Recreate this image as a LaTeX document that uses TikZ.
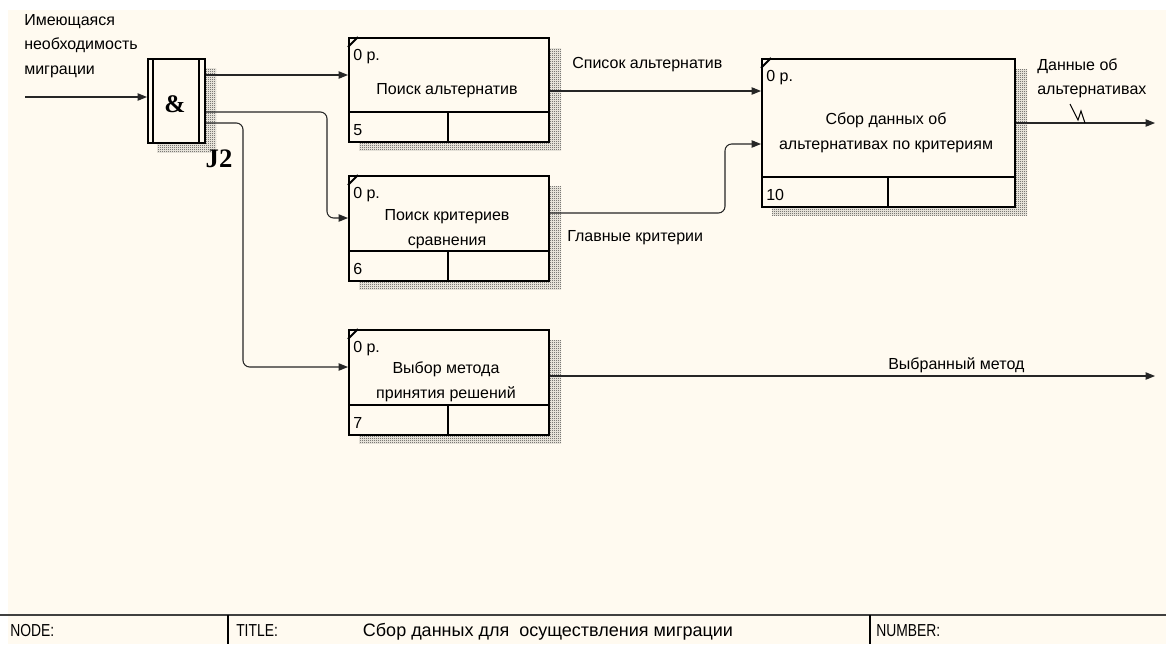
\documentclass[tikz,border=0pt]{standalone}
\usepackage{fontspec}
\setmainfont{Liberation Sans}
\newfontfamily\jfont{Liberation Serif}
\usetikzlibrary{patterns,arrows.meta}
\definecolor{fond}{RGB}{255,250,240}
\pgfdeclarepatternformonly{damier}{\pgfqpoint{0pt}{0pt}}{\pgfqpoint{1.5pt}{1.5pt}}{\pgfqpoint{1.5pt}{1.5pt}}
{\pgfpathrectangle{\pgfqpoint{0pt}{0pt}}{\pgfqpoint{0.75pt}{0.75pt}}
 \pgfpathrectangle{\pgfqpoint{0.75pt}{0.75pt}}{\pgfqpoint{0.75pt}{0.75pt}}
 \pgfusepath{fill}}
\tikzset{cadre/.style={draw, line width=1.5pt, fill=fond, inner sep=0pt},
         ombre/.style={pattern=damier, pattern color=black!80},
         fleche/.style={line width=0.8pt, draw=black!85, rounded corners=5pt,
                        -{Triangle[length=7pt,width=5.5pt]}},
         txt/.style={font=\fontsize{12}{18.5}\selectfont, inner sep=0pt, align=center},
         pied/.style={font=\fontsize{13}{13}\selectfont, inner sep=0pt, anchor=west}}
% activite : nom, x1, y1, x2, y2, numero
\newcommand{\activite}[6]
{\fill[ombre] ({#2+11},{#3+11}) rectangle ({#4+13},{#5+9});
 \node[cadre, anchor=north west, minimum width={(#4-#2)*0.75pt},
       minimum height={(#5-#3)*0.75pt}] (#1) at (#2,#3) {};
 \draw[line width=1.5pt] (#2,{#5-29}) -- (#4,{#5-29})
                         ({(#2+#4)/2},{#5-29}) -- ({(#2+#4)/2},#5);
 \draw[line width=1.5pt] (#2,{#3+10}) -- ({#2+10},#3);
 \node[txt, anchor=base west] (#1-p) at ({#2+5},{#3+23}) {0 р.};
 \node[txt, anchor=base west] (#1-n) at ({#2+5},{#5-6}) {#6};}

\begin{document}
\begin{tikzpicture}[x=0.75pt,y=-0.75pt]
  \fill[white] (0,0) rectangle (1166,644);
  \fill[fond] (8,10) rectangle (1166,644);
  \useasboundingbox (0,0) rectangle (1166,644);
  % jonction
  \fill[ombre] (157,68) rectangle (216,152);
  \node[cadre, anchor=north west, minimum width=42.75pt, minimum height=63pt] (j2) at (147,58) {};
  \draw[line width=1.5pt] (153,58) -- (153,142) (199,58) -- (199,142);
  \node[font=\jfont\bfseries\fontsize{19}{19}\selectfont, inner sep=0pt] (et) at (175,104) {\&};
  \node[font=\jfont\bfseries\fontsize{20}{20}\selectfont, inner sep=0pt] (lj2) at (219,159) {J2};
  % activites
  \activite{b5}{348}{37}{548}{141}{5}
  \activite{b6}{348}{175}{548}{280}{6}
  \activite{b7}{348}{329}{548}{434}{7}
  \activite{b10}{761}{58}{1014}{206}{10}
  \node[txt] (t5) at (447,91) {Поиск альтернатив};
  \node[txt] (t6) at (447,229) {Поиск критериев\\сравнения};
  \node[txt] (t7) at (446,382) {Выбор метода\\принятия решений};
  \node[txt] (t10) at (886,133) {Сбор данных об\\альтернативах по критериям};
  % fleches
  \coordinate (entree) at (25,97);
  \coordinate (sortie1) at (1155,123);
  \coordinate (sortie2) at (1155,376);
  \draw[fleche] (entree) -- (j2.west |- entree);
  \draw[fleche] (j2.east |- 0,75) -- (b5.west |- 0,75);
  \draw[fleche] (j2.east |- 0,112) -- (327,112) -- (327,218) -- (b6.west |- 0,218);
  \draw[fleche] (j2.east |- 0,123) -- (243,123) -- (243,367) -- (b7.west |- 0,367);
  \draw[fleche] (b5.east |- 0,91) -- (b10.west |- 0,91);
  \draw[fleche] (b6.east |- 0,213) -- (725,213) -- (725,144) -- (b10.west |- 0,144);
  \draw[fleche] (b10.east |- sortie1) -- (sortie1);
  \draw[fleche] (b7.east |- sortie2) -- (sortie2);
  \draw[line width=0.8pt] (1070,104) -- (1078,120) -- (1081,111) -- (1085,123);
  % etiquettes
  \node[txt, align=left, anchor=north west] (l-besoin) at (24,14) {Имеющаяся\\необходимость\\миграции};
  \node[txt, anchor=base west] (l-liste) at (572,68) {Список альтернатив};
  \node[txt, anchor=base west] (l-crit) at (567,241) {Главные критерии};
  \node[txt, anchor=base west] (l-meth) at (888,369) {Выбранный метод};
  \node[txt, align=left, anchor=north west] (l-donnees) at (1037,58) {Данные об\\альтернативах};
  % cartouche
  \draw[line width=1pt, draw=black!75] (0,615) -- (1166,615);
  \draw[line width=1pt] (228,615) -- (228,644) (870,615) -- (870,644);
  \node[pied] (node) at (10,631) {\scalebox{0.8}[1]{NODE:}};
  \node[pied] (title) at (236,631) {\scalebox{0.8}[1]{TITLE:}};
  \node[pied] (number) at (876,631) {\scalebox{0.8}[1]{NUMBER:}};
  \node[font=\fontsize{13.5}{13.5}\selectfont, inner sep=0pt] (titre) at (548,632) {Сбор данных для\ \ осуществления миграции};
\end{tikzpicture}
\end{document}
